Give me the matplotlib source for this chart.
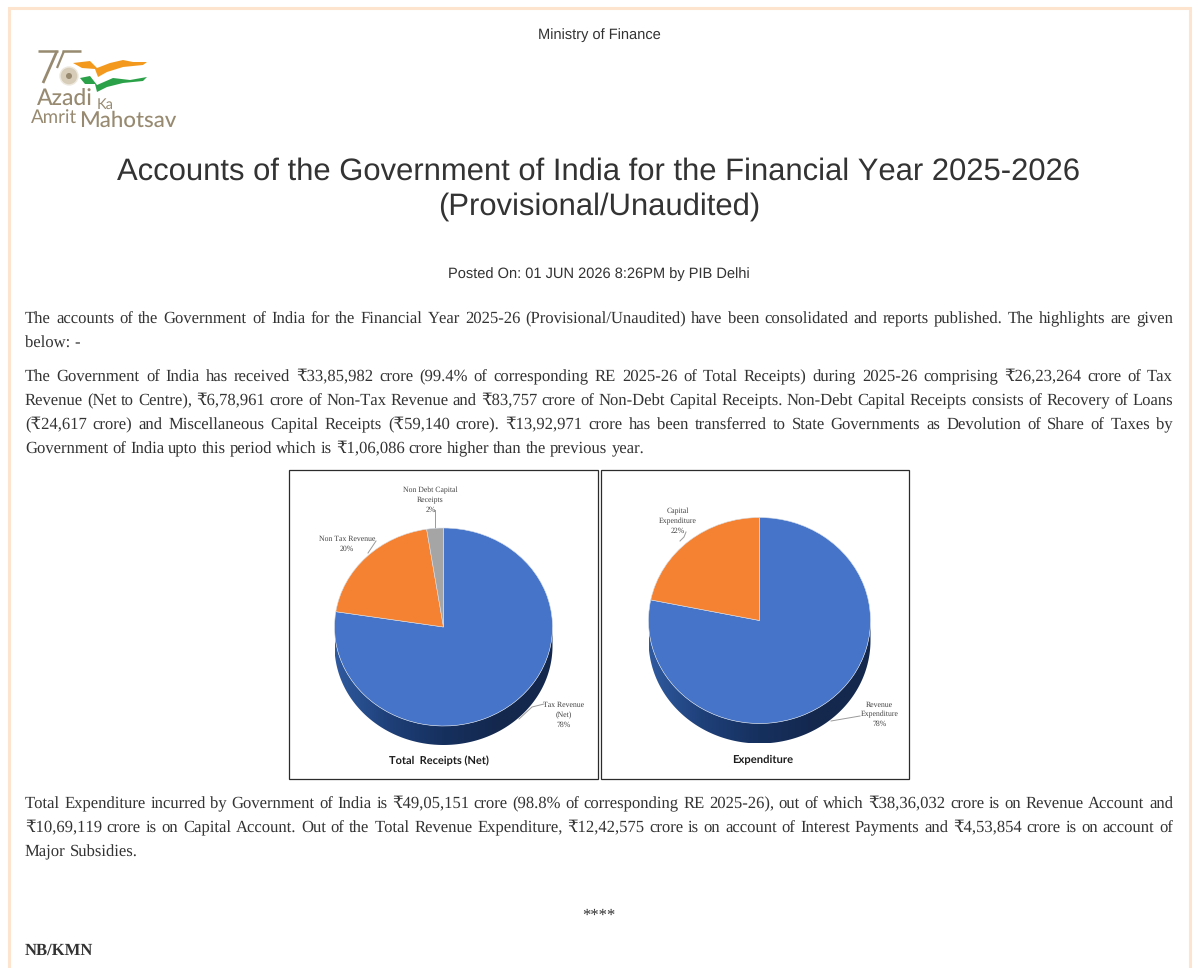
import matplotlib
matplotlib.use("Agg")
import matplotlib.pyplot as plt
from matplotlib.colors import LinearSegmentedColormap
from matplotlib.patches import Rectangle, Circle, Polygon
import numpy as np

plt.rcParams["text.hinting"] = "none"
plt.rcParams["text.kerning_factor"] = 6

# values in crore, from the release text
receipt_values = [2623264, 678961, 83757]
receipt_labels = ["Tax Revenue\n(Net)", "Non Tax Revenue", "Non Debt Capital\nReceipts"]
receipt_pcts = [78, 20, 2]
receipt_colors = ["#4674c8", "#f58233", "#a5a5a5"]

expenditure_values = [3836032, 1069119]
expenditure_labels = ["Revenue\nExpenditure", "Capital\nExpenditure"]
expenditure_pcts = [78, 22]
expenditure_colors = ["#4674c8", "#f58233"]

SERIF = ["Liberation Serif", "DejaVu Serif"]
SANS = ["Liberation Sans", "DejaVu Sans"]
BODY = "#333333"

para_1 = [
    "The accounts of the Government of India for the Financial Year 2025-26 (Provisional/Unaudited) have been consolidated and reports published. The highlights are given",
    "below: -",
]
para_2 = [
    "The Government of India has received ₹33,85,982 crore (99.4% of corresponding RE 2025-26 of Total Receipts) during 2025-26 comprising ₹26,23,264 crore of Tax",
    "Revenue (Net to Centre), ₹6,78,961 crore of Non-Tax Revenue and ₹83,757 crore of Non-Debt Capital Receipts. Non-Debt Capital Receipts consists of Recovery of Loans",
    "(₹24,617 crore) and Miscellaneous Capital Receipts (₹59,140 crore). ₹13,92,971 crore has been transferred to State Governments as Devolution of Share of Taxes by",
    "Government of India upto this period which is ₹1,06,086 crore higher than the previous year.",
]
para_3 = [
    "Total Expenditure incurred by Government of India is ₹49,05,151 crore (98.8% of corresponding RE 2025-26), out of which ₹38,36,032 crore is on Revenue Account and",
    "₹10,69,119 crore is on Capital Account. Out of the Total Revenue Expenditure, ₹12,42,575 crore is on account of Interest Payments and ₹4,53,854 crore is on account of",
    "Major Subsidies.",
]

fig = plt.figure(figsize=(12, 9.68), dpi=100)
ax = fig.add_axes([0, 0, 1, 1])
ax.set_xlim(0, 1200)
ax.set_ylim(968, 0)
ax.axis("off")
renderer = fig.canvas.get_renderer()


def justified(lines, y_start, step=24, left=25, right=1173):
    for n, line in enumerate(lines):
        y = y_start + n * step
        words = line.split(" ")
        items = [ax.text(left, y, w, family=SERIF, fontsize=11.95, color=BODY, va="baseline") for w in words]
        widths = [t.get_window_extent(renderer).width for t in items]
        if n == len(lines) - 1:
            gap = 4.0
        else:
            gap = (right - left - sum(widths)) / (len(words) - 1)
        x = left
        for t, w in zip(items, widths):
            # agg places the word bitmap by its bottom row, so baselines drift by a row without this
            h, d = renderer.get_text_width_height_descent(t.get_text(), t.get_fontproperties(), False)[1:]
            t.set_position((x, y + np.floor(h) - np.floor(h - d) - d))
            x += w + gap


def draw_pie(values, colors, cx, cy, rx, ry, depth):
    # side wall: gradient image clipped to the lower rim band
    cmap = LinearSegmentedColormap.from_list("side", ["#2f5a9e", "#1e3f78", "#16305e", "#14284e", "#14284e"])
    t = np.linspace(0, np.pi, 200)
    top = np.column_stack([cx + rx * np.cos(t), cy + ry * np.sin(t)])
    low = top[::-1] + [0, depth]
    wall = Polygon(np.vstack([top, low]), closed=True, transform=ax.transData, facecolor="none", edgecolor="none")
    ax.add_patch(wall)
    im = ax.imshow(np.linspace(0, 1, 256).reshape(1, -1), cmap=cmap, aspect="auto", zorder=2,
                   extent=[cx - rx, cx + rx, cy + ry + depth, cy - ry])
    im.set_clip_path(wall)
    ax.set_xlim(0, 1200)
    ax.set_ylim(968, 0)
    pie_ax = fig.add_axes([(cx - rx) / 1200, 1 - (cy + ry) / 968, 2 * rx / 1200, 2 * ry / 968], zorder=3)
    pie_ax.pie(values, colors=colors, startangle=90, counterclock=False, radius=1,
               wedgeprops={"edgecolor": "#d8dfe8", "linewidth": 0.4})
    pie_ax.set_aspect("auto")
    pie_ax.set_xlim(-1, 1)
    pie_ax.set_ylim(-1, 1)
    pie_ax.patch.set_alpha(0)


def small(x, y, s, pct):
    ax.text(x, y, "{0}\n{1}%".format(s, pct), family=SERIF, fontsize=5.6, color="#444444", ha="center",
            va="center", linespacing=1.45, zorder=5)


def draw_logo():
    tan = "#978a70"
    ax.plot([38, 58], [50.5, 50.5], color=tan, lw=1.8, solid_capstyle="butt")
    ax.plot([57, 43], [51, 83], color=tan, lw=2.0, solid_capstyle="butt")
    ax.plot([62, 81], [50.5, 50.5], color=tan, lw=1.8, solid_capstyle="butt")
    ax.plot([64, 57], [51, 68], color=tan, lw=1.6, solid_capstyle="butt")
    ax.add_patch(Circle((69, 76), 9, facecolor="#d6ccb8", edgecolor="#eee9df", lw=1))
    ax.add_patch(Circle((69, 76), 3, facecolor="#978a70", edgecolor="none"))
    ax.add_patch(Polygon([(73, 63), (90, 61), (97, 68), (110, 63), (123, 60), (133, 62), (147, 62), (143, 65),
                          (123, 67), (107, 72), (98, 77), (95, 69), (82, 68)],
                         facecolor="#f39a1e", edgecolor="none"))
    ax.add_patch(Polygon([(80, 78), (90, 76), (97, 85), (113, 78), (130, 80), (147, 77), (143, 81),
                          (123, 83), (107, 87), (97, 92), (95, 84), (85, 84)],
                         facecolor="#2ba24a", edgecolor="none"))
    ax.text(37, 99, "Azadi", family="Lato", fontsize=16.5, color=tan, va="center", weight="medium")
    ax.text(97, 105, "Ka", family="Lato", fontsize=10.5, color=tan, va="center")
    ax.text(31, 118, "Amrit", family="Lato", fontsize=13.5, color=tan, va="center")
    ax.text(79, 121, "Mahotsav", family="Lato", fontsize=16, color=tan, va="center", weight="medium")


# page border, no bottom edge in the crop
ax.plot([8.5, 8.5, 1189.5, 1189.5], [968, 7.5, 7.5, 968], color="#fde4cf", lw=2.2, solid_joinstyle="miter")

ax.text(599, 35, "Ministry of Finance", family=SANS, fontsize=10.5, color=BODY, ha="center", va="center")
draw_logo()
ax.text(599, 171.5, "Accounts of the Government of India for the Financial Year 2025-2026", family=SANS,
        fontsize=22.3, color=BODY, ha="center", va="center")
ax.text(599, 206.5, "(Provisional/Unaudited)", family=SANS, fontsize=22.3, color=BODY, ha="center", va="center")
ax.text(599, 274, "Posted On: 01 JUN 2026 8:26PM by PIB Delhi", family=SANS, fontsize=10.5, color=BODY,
        ha="center", va="center")

justified(para_1, 323)
justified(para_2, 381)
justified(para_3, 808)
ax.text(599, 920, "****", family=SERIF, fontsize=11.95, color=BODY, ha="center", va="baseline")
ax.text(25, 955, "NB/KMN", family=SERIF, fontsize=11.95, color=BODY, weight="bold", va="baseline")

# chart panels
ax.add_patch(Rectangle((289, 470), 309, 308.5, facecolor="white", edgecolor="#2b2b2b", lw=0.9))
ax.add_patch(Rectangle((600.5, 470), 308.5, 308.5, facecolor="white", edgecolor="#2b2b2b", lw=0.9))

draw_pie(receipt_values, receipt_colors, 443.5, 627, 109, 99, 19)
draw_pie(expenditure_values, expenditure_colors, 759.5, 620.5, 111, 103, 20)

# leader lines
ax.plot([519, 532, 544], [719, 707, 704], color="#9a9a9a", lw=0.7, zorder=5)
ax.plot([435, 435], [510, 529], color="#9a9a9a", lw=0.7, zorder=5)
ax.plot([376, 368], [541, 553], color="#9a9a9a", lw=0.7, zorder=5)
ax.plot([686, 684, 680], [532, 537, 541], color="#9a9a9a", lw=0.7, zorder=5)
ax.plot([831, 860], [721, 716], color="#9a9a9a", lw=0.7, zorder=5)

small(564, 715, receipt_labels[0], receipt_pcts[0])
small(347, 544, receipt_labels[1], receipt_pcts[1])
small(430.5, 500, receipt_labels[2], receipt_pcts[2])
small(879.5, 714.5, expenditure_labels[0], expenditure_pcts[0])
small(678, 521, expenditure_labels[1], expenditure_pcts[1])

ax.text(438.5, 760.5, "Total  Receipts (Net)", family=["Lato", "DejaVu Sans"], fontsize=7.9, weight="bold",
        color="#1c1c1c", ha="center", va="center")
ax.text(763, 760, "Expenditure", family=["Lato", "DejaVu Sans"], fontsize=8.1, weight="bold",
        color="#1c1c1c", ha="center", va="center")

fig.savefig("out.png", dpi=100)
